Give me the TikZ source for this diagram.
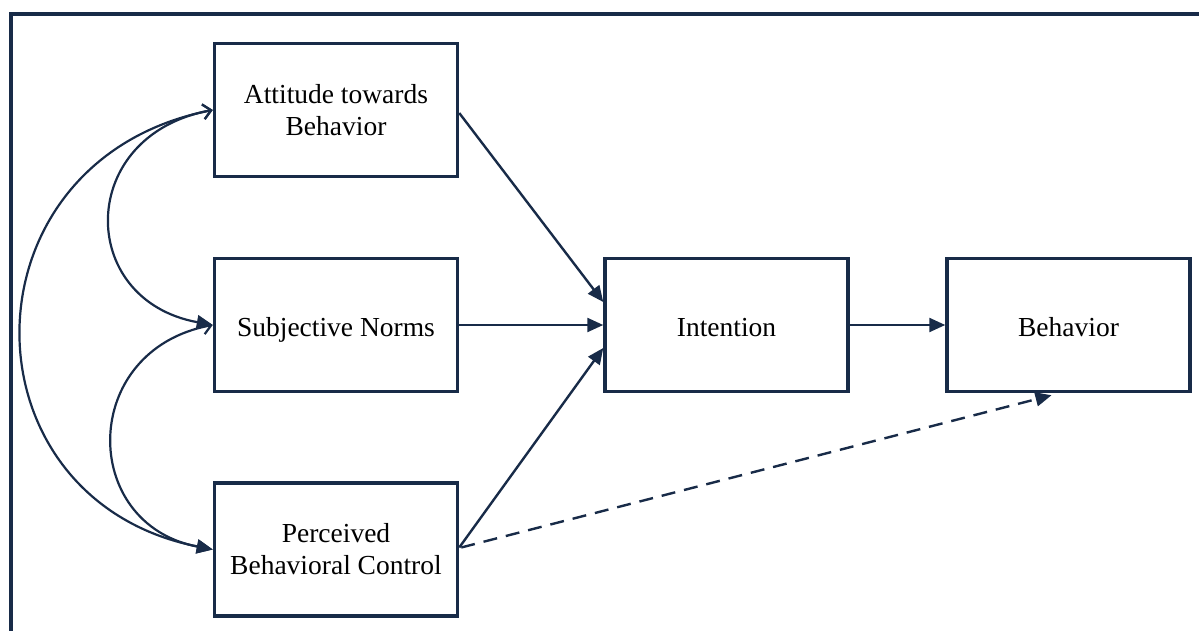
\documentclass[tikz,border=0pt]{standalone}
\usepackage{fontspec}
\setmainfont{Liberation Serif}
\usetikzlibrary{arrows.meta}
\definecolor{navy}{HTML}{182B48}
\begin{document}
\begin{tikzpicture}[x=1pt,y=-1pt,
  box/.style={draw=navy,line width=3.5pt,minimum width=243pt,minimum height=133pt,
    align=center,inner sep=0pt,font=\fontsize{27.5}{32}\selectfont},
  oneline/.style={text height=22pt,text depth=0pt},
  link/.style={draw=navy,line width=2.4pt,-{Triangle[length=16pt,width=14pt]}},
  corr/.style={draw=navy,line width=2.2pt,
    {Straight Barb[length=8pt,width=15pt,line width=2.2pt]}-{Triangle[length=16pt,width=14pt]}}]
\useasboundingbox (0,0) rectangle (1199,631);
\clip (0,0) rectangle (1199,631);
% outer frame
\draw[navy,line width=4.5pt] (11,14) rectangle (1230,660);
% boxes
\node[box] (att) at (336,110) {Attitude towards\\Behavior};
\node[box,oneline] (sn)  at (336,325) {Subjective Norms};
\node[box] (pbc) at (336,549.5) {Perceived\\Behavioral Control};
\node[box,oneline] (int) at (726.5,325) {Intention};
\node[box,oneline] (beh) at (1068.5,325) {Behavior};
% correlations between the predictors
\draw[corr] (att.west) .. controls (-42,160) and (-42,499) .. (pbc.west);
\draw[corr] (att.west) .. controls (76,135) and (76,300) .. (sn.west);
\draw[corr] (sn.west) .. controls (79,350) and (79,524) .. (pbc.west);
% paths
\draw[link] ([yshift=-3pt]att.east) -- ([yshift=23pt]int.west);
\draw[link] (sn.east) -- (int.west);
\draw[link] ([yshift=2pt]pbc.east) -- ([yshift=-23pt]int.west);
\draw[link] (int.east) -- (beh.west);
\draw[link,dash pattern=on 14pt off 9pt] ([xshift=2pt,yshift=2pt]pbc.east) -- ([xshift=-17pt,yshift=-2pt]beh.south);
\end{tikzpicture}
\end{document}
